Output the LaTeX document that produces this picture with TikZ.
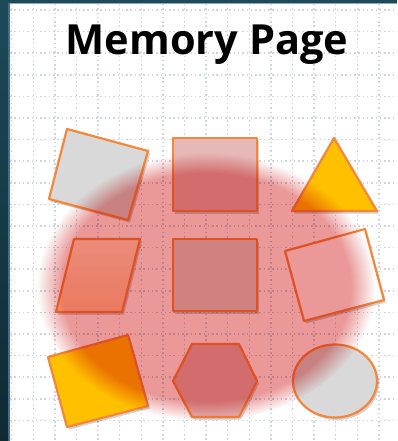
\documentclass[tikz,border=0pt]{standalone}
\usepackage{fontspec}
\setmainfont{Open Sans}
\usetikzlibrary{fadings,shadows}

\definecolor{frameteal}{RGB}{29,74,88}
\definecolor{framedark}{RGB}{15,42,51}
\definecolor{frameline}{RGB}{74,106,140}
\definecolor{griddot}{RGB}{208,211,228}
\definecolor{edgeorange}{RGB}{244,135,58}
\definecolor{paleGrey}{RGB}{217,217,217}
\definecolor{palePink}{RGB}{230,184,184}
\definecolor{dustPink}{RGB}{229,218,218}
\definecolor{goldYellow}{RGB}{255,192,0}
\definecolor{peachTop}{RGB}{255,235,205}
\definecolor{peachBottom}{RGB}{255,205,160}
\definecolor{blobRed}{RGB}{234,152,152}

\begin{document}
\begin{tikzpicture}[
  x=1pt, y=-1pt,
  line join=round,
  gridline/.style={griddot, line width=1.5pt, dash pattern=on 1.5pt off 2.8pt},
  piece/.style={draw=edgeorange, line width=2.2pt,
    drop shadow={shadow xshift=2pt, shadow yshift=-2.5pt, opacity=0.18, fill=black}},
  heading/.style={font=\bfseries\fontsize{41.5}{48}\selectfont, anchor=base}
]
\useasboundingbox (0,0) rectangle (397,441);

% ------------------------------------------------------------------
% Page and frame
% ------------------------------------------------------------------
\fill[white] (0,0) rectangle (397,441);
\shade[top color=frameteal, bottom color=framedark] (0,0) rectangle (8,441);
\fill[frameline] (8,0) rectangle (10,441);
\fill[frameteal] (8,0) rectangle (397,3);
\fill[frameline!60] (10,3) rectangle (397,4);

% dotted grid
\foreach \gx in {0,...,17}
  \draw[gridline] ({11.7+21.6*\gx},4) -- ({11.7+21.6*\gx},441);
\foreach \gy in {0,...,20}
  \draw[gridline] (10,{10+21.6*\gy}) -- (397,{10+21.6*\gy});

\node[heading] (title) at (207,55) {Memory Page};

% ------------------------------------------------------------------
% Shapes
% ------------------------------------------------------------------
\draw[piece, fill=paleGrey] (67,129) -- (148,151) -- (128,220) -- (49,199) -- cycle;
\draw[piece, fill=palePink] (173,138) rectangle (257,211);
\draw[piece, fill=goldYellow] (334,138) -- (377,211) -- (292,211) -- cycle;

\draw[piece, top color=peachTop, bottom color=peachBottom]
  (74,239) -- (140,239) -- (122,312) -- (56,312) -- cycle;
\draw[piece, fill=dustPink] (173,239) rectangle (257,311);
\draw[piece, fill=white] (285,251) -- (365,229) -- (384,300) -- (304,321) -- cycle;

\draw[piece, fill=goldYellow] (48,357) -- (128,335) -- (148,406) -- (67,427) -- cycle;
\draw[piece, fill=palePink]
  (173,381) -- (192,344) -- (239,344) -- (257,381) -- (239,417) -- (192,417) -- cycle;
\draw[piece, fill=paleGrey] (335,381) ellipse [x radius=42, y radius=36.5];

% soft red blob laid over everything
\begin{scope}[blend mode=multiply]
  \fill[blobRed, path fading=circle with fuzzy edge 15 percent]
    (206,287) ellipse [x radius=169, y radius=134];
\end{scope}

\end{tikzpicture}
\end{document}
